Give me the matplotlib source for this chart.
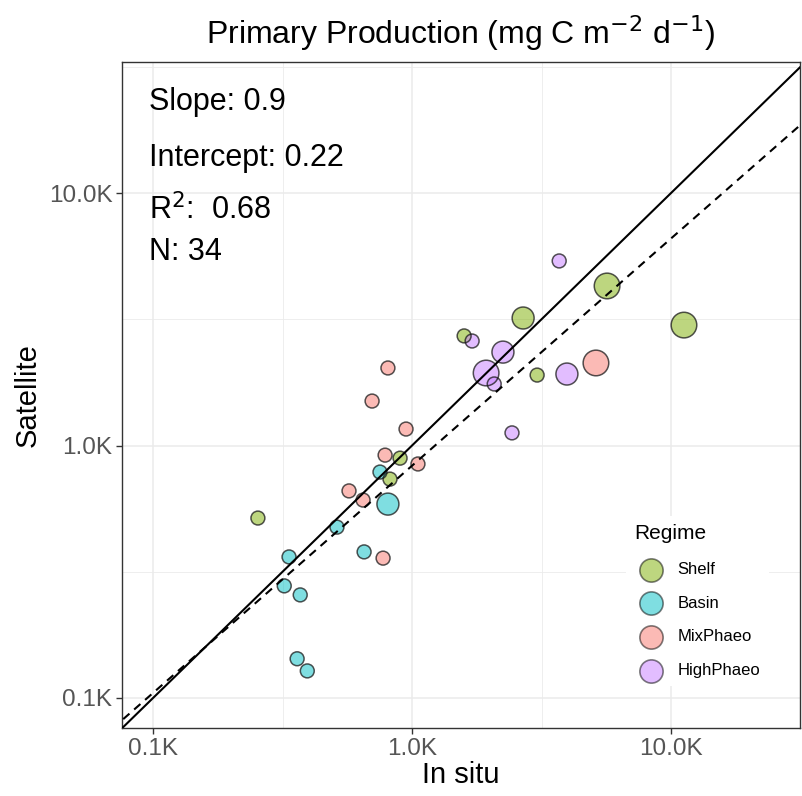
import numpy as np
import matplotlib.pyplot as plt
from matplotlib.ticker import FuncFormatter, FixedLocator

plt.rcParams['font.family'] = ['Liberation Sans', 'DejaVu Sans']

# du lieu doc tu hinh (mg C m-2 d-1)
regimes = ["Shelf", "Basin", "MixPhaeo", "HighPhaeo"]
colors = ["#7CAE00", "#00BFC4", "#F8766D", "#C77CFF"]

shelf_x = [254, 899, 822, 1589, 2685, 3041, 5663, 11220]
shelf_y = [516, 891, 736, 2717, 3199, 1901, 4285, 2999]
shelf_w = [1, 1, 1, 1, 2, 1, 3, 3]

basin_x = [752, 807, 513, 653, 335, 321, 370, 360, 394]
basin_y = [785, 586, 475, 379, 362, 278, 256, 143, 128]
basin_w = [1, 2, 1, 1, 1, 1, 1, 1, 1]

mix_x = [807, 701, 948, 787, 1054, 571, 647, 773, 5130]
mix_y = [2028, 1500, 1162, 916, 845, 661, 608, 358, 2123]
mix_w = [1, 1, 1, 1, 1, 1, 1, 1, 3]

high_x = [3700, 1706, 2244, 1932, 3963, 2076, 2432]
high_y = [5383, 2594, 2344, 1937, 1919, 1753, 1122]
high_w = [1, 1, 2, 3, 2, 1, 1]

slope = 0.9
intercept = 0.22
r2 = 0.68
n = 34

fig = plt.figure(figsize=(8.02, 7.96), dpi=100)
ax = fig.add_axes([0.1521, 0.0854, 0.8454, 0.8367])

xs = [shelf_x, basin_x, mix_x, high_x]
ys = [shelf_y, basin_y, mix_y, high_y]
ws = [shelf_w, basin_w, mix_w, high_w]
size_map = {1: 100, 2: 250, 3: 340}

for name, c, x, y, w in zip(regimes, colors, xs, ys, ws):
    ax.scatter(x, y, s=[size_map[v] for v in w], facecolor=c, alpha=0.5,
               edgecolor="none", zorder=3)
    ax.scatter(x, y, s=[size_map[v] for v in w], facecolor="none",
               edgecolor=(0.1, 0.1, 0.1, 0.75), linewidth=1.1, zorder=4)

ax.set_xscale("log")
ax.set_yscale("log")
ax.set_xlim(10 ** 1.88, 10 ** 4.498)
ax.set_ylim(10 ** 1.881, 10 ** 4.519)

xx = np.logspace(1.8, 4.6, 50)
ax.plot(xx, xx, color="black", lw=1.5, zorder=5)
ax.plot(xx, 10 ** (slope * np.log10(xx) + intercept), color="black", lw=1.5,
        ls=(0, (4, 3)), zorder=5)

fmt = FuncFormatter(lambda v, p: f"{v / 1000:.1f}K")
for axis in [ax.xaxis, ax.yaxis]:
    axis.set_major_locator(FixedLocator([100, 1000, 10000]))
    axis.set_minor_locator(FixedLocator([10 ** 2.5, 10 ** 3.5, 10 ** 4.5]))
    axis.set_major_formatter(fmt)
    axis.set_minor_formatter(FuncFormatter(lambda v, p: ""))
ax.grid(True, which="major", color="#EBEBEB", lw=1.1, zorder=0)
ax.grid(True, which="minor", color="#EBEBEB", lw=0.6, zorder=0)
ax.set_axisbelow(True)
ax.tick_params(which="major", length=4, width=1, color="#333333",
               labelsize=17.5, labelcolor="#555555", pad=3)
ax.tick_params(which="minor", length=0)
for s in ax.spines.values():
    s.set_color("#333333")
    s.set_linewidth(1)

ax.set_xlabel("In situ", fontsize=21, labelpad=1)
ax.set_ylabel("Satellite", fontsize=21, labelpad=5)
ax.set_title(r"Primary Production (mg C m$^{-2}$ d$^{-1}$)", fontsize=23, pad=13)

ax.text(0.04, 0.962, f"Slope: {slope}", transform=ax.transAxes, fontsize=22, va="top")
ax.text(0.04, 0.878, f"Intercept: {intercept}", transform=ax.transAxes, fontsize=22, va="top")
ax.text(0.04, 0.802, r"R$^2$:  " + f"{r2}", transform=ax.transAxes, fontsize=22, va="top")
ax.text(0.04, 0.737, f"N: {n}", transform=ax.transAxes, fontsize=22, va="top")

handles = [plt.scatter([], [], s=280, facecolor=c, alpha=0.5, edgecolor="black", linewidth=1.2)
           for c in colors]
leg = ax.legend(handles, regimes, title="Regime", loc="lower right",
                bbox_to_anchor=(0.966, 0.05), frameon=True, fontsize=12,
                title_fontsize=15, labelspacing=1.12, handletextpad=0.6,
                borderpad=0.5)
leg.get_frame().set_edgecolor("none")
leg.get_frame().set_facecolor("white")
leg.get_frame().set_alpha(1)
leg._legend_box.align = "left"

fig.savefig("out.png", dpi=100)
